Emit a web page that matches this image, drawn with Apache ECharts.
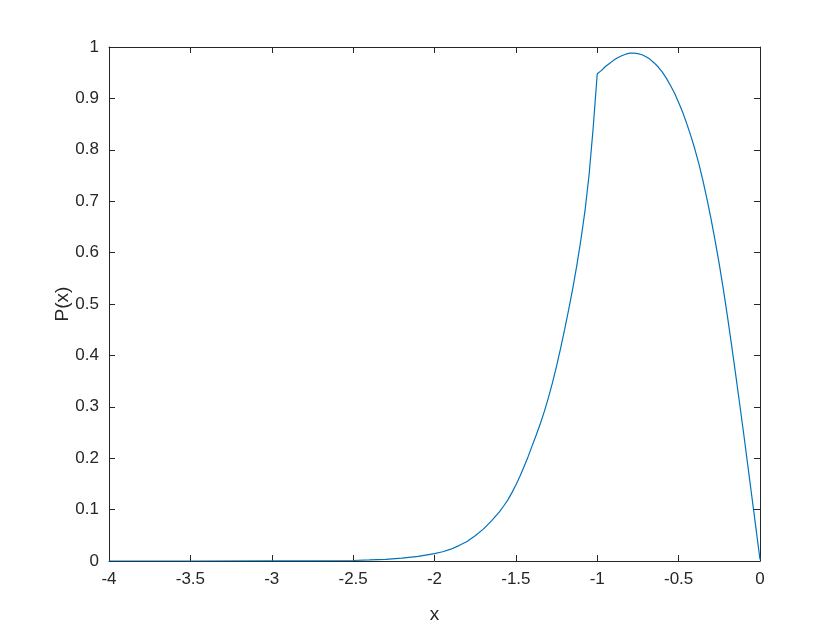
<!DOCTYPE html>
<html>
<head>
<meta charset="utf-8">
<script src="https://cdn.jsdelivr.net/npm/echarts@6/dist/echarts.min.js"></script>
<style>html,body{margin:0;padding:0;background:#fff}#c{width:840px;height:630px}</style>
</head>
<body>
<div id="c"></div>
<script>
const xValues = [-4, -3.5, -3, -2.75, -2.5, -2.4, -2.3, -2.2, -2.1, -2.0, -1.95, -1.9, -1.85, -1.8, -1.75, -1.7, -1.65, -1.6, -1.575, -1.55, -1.525,
  -1.5, -1.475, -1.45, -1.425, -1.4, -1.375, -1.35, -1.325, -1.3, -1.275, -1.25, -1.225, -1.2, -1.175, -1.15, -1.125, -1.1, -1.075, -1.05, -1.025,
  -1.0, -0.975, -0.95, -0.925, -0.9, -0.875, -0.85, -0.825, -0.8, -0.775, -0.75, -0.725, -0.7, -0.675, -0.65, -0.625, -0.6, -0.575, -0.55, -0.525,
  -0.5, -0.475, -0.45, -0.425, -0.4, -0.375, -0.35, -0.325, -0.3, -0.275, -0.25, -0.225, -0.2, -0.175, -0.15, -0.125, -0.1, -0.075, -0.05, -0.025, 0];
const pValues = [0, 0, 0.0001, 0.0003, 0.001, 0.002, 0.0033, 0.0055, 0.009, 0.0144, 0.018, 0.023, 0.030, 0.038, 0.049, 0.062, 0.078, 0.096, 0.107, 0.1185, 0.1325,
  0.148, 0.165, 0.1835, 0.203, 0.224, 0.245, 0.267, 0.291, 0.318, 0.347, 0.379, 0.414, 0.451, 0.490, 0.531, 0.576, 0.626, 0.682, 0.752, 0.843,
  0.948, 0.954, 0.962, 0.968, 0.974, 0.979, 0.983, 0.986, 0.988, 0.988, 0.987, 0.985, 0.981, 0.976, 0.969, 0.961, 0.951, 0.939, 0.925, 0.910,
  0.892, 0.873, 0.851, 0.827, 0.801, 0.772, 0.739, 0.703, 0.664, 0.622, 0.577, 0.528, 0.476, 0.421, 0.364, 0.306, 0.247, 0.186, 0.125, 0.064, 0.003];
const xTicks = { min: -4, max: 0, interval: 0.5 };
const yTicks = { min: 0, max: 1, interval: 0.1 };

const data = xValues.map((x, i) => [x, pValues[i]]);
const axisColor = '#262626';
const font = 'Liberation Sans, Arial, Helvetica, sans-serif';
const chart = echarts.init(document.getElementById('c'));
const baseAxis = {
  axisLine: { show: true, onZero: false, lineStyle: { color: axisColor, width: 1 } },
  axisTick: { show: true, inside: true, length: 6, lineStyle: { color: axisColor } },
  splitLine: { show: false },
};
chart.setOption({
  animation: false,
  backgroundColor: '#fff',
  grid: { left: 109, right: 80, top: 47, bottom: 69, containLabel: false },
  xAxis: [
    Object.assign({}, baseAxis, {
      type: 'value', position: 'bottom', min: xTicks.min, max: xTicks.max, interval: xTicks.interval,
      axisLabel: { color: axisColor, fontSize: 17, fontFamily: font, margin: 10 },
      name: 'x', nameLocation: 'middle', nameGap: 44, nameMoveOverlap: false,
      nameTextStyle: { color: axisColor, fontSize: 19, fontFamily: font }
    }),
    Object.assign({}, baseAxis, {
      type: 'value', position: 'top', min: xTicks.min, max: xTicks.max, interval: xTicks.interval,
      axisLabel: { show: false }
    })
  ],
  yAxis: [
    Object.assign({}, baseAxis, {
      type: 'value', position: 'left', min: yTicks.min, max: yTicks.max, interval: yTicks.interval,
      axisLabel: { color: axisColor, fontSize: 17, fontFamily: font, margin: 10 },
      name: 'P(x)', nameLocation: 'middle', nameGap: 37, nameMoveOverlap: false,
      nameTextStyle: { color: axisColor, fontSize: 19, fontFamily: font }
    }),
    Object.assign({}, baseAxis, {
      type: 'value', position: 'right', min: yTicks.min, max: yTicks.max, interval: yTicks.interval,
      axisLabel: { show: false }
    })
  ],
  series: [{
    type: 'line', data: data, xAxisIndex: 0, yAxisIndex: 0,
    showSymbol: false, smooth: false,
    lineStyle: { color: '#0072BD', width: 1.2 }
  }]
});
</script>
</body>
</html>
